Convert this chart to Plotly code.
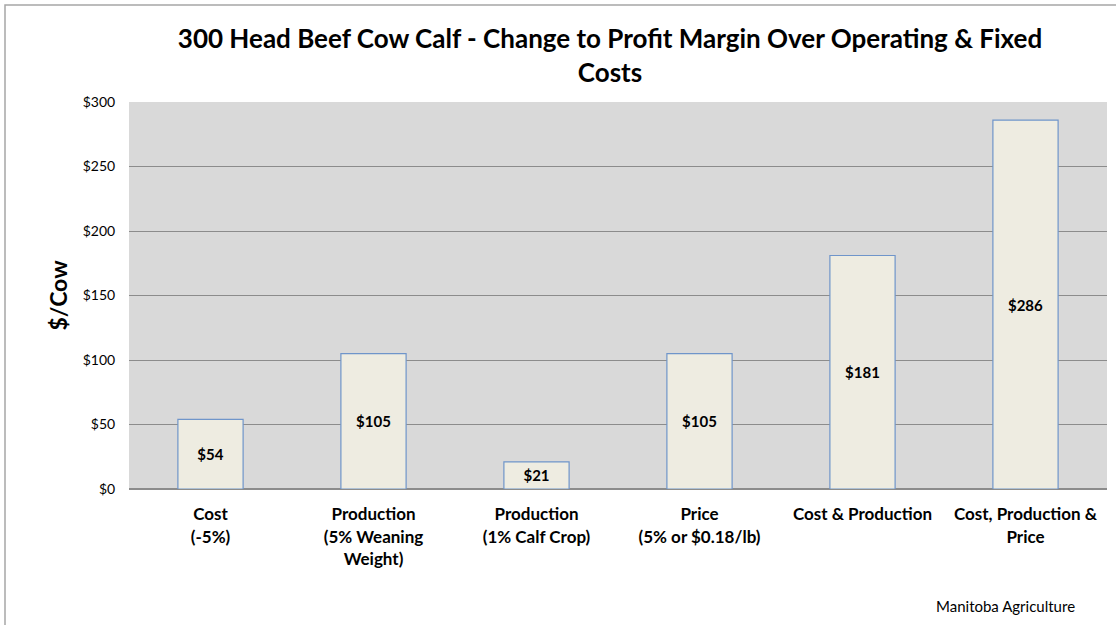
import plotly.graph_objects as go

categories = ["Cost<br>(-5%)", "Production<br>(5% Weaning<br>Weight)", "Production<br>(1% Calf Crop)",
              "Price<br>(5% or $0.18/lb)", "Cost & Production", "Cost, Production &<br>Price"]
values = [54, 105, 21, 105, 181, 286]
value_labels = ["$54", "$105", "$21", "$105", "$181", "$286"]
y_ticks = [0, 50, 100, 150, 200, 250, 300]
y_tick_labels = ["$0", "$50", "$100", "$150", "$200", "$250", "$300"]

FONT = "Lato, Open Sans, sans-serif"

W, H = 1116, 625
L, R, T, B = 129, 1107, 102, 489
PW, PH = R - L, B - T

def px(x):
    return (x - L) / PW

def py(y):
    return (B - y) / PH

fig = go.Figure(go.Bar(
    x=categories, y=values, text=value_labels,
    textposition="inside", insidetextanchor="middle",
    textfont=dict(family=FONT, size=15, color="black", weight="bold"),
    marker=dict(color="#EEECE1", line=dict(color="#6F95CA", width=1.2)),
    width=0.4, cliponaxis=False,
))

fig.update_layout(
    width=W, height=H,
    margin=dict(l=L, r=W - R, t=T, b=H - B),
    paper_bgcolor="white", plot_bgcolor="#D9D9D9",
    font=dict(family=FONT, color="black"),
    showlegend=False,
    title=dict(text="<b>300 Head Beef Cow Calf - Change to Profit Margin Over Operating & Fixed<br>Costs</b>",
               x=610 / W, xanchor="center", y=1 - 48 / H, yanchor="top",
               font=dict(family=FONT, size=26, color="black")),
    xaxis=dict(showgrid=False, showline=False, ticks="outside", ticklen=10, tickcolor="rgba(0,0,0,0)",
               tickfont=dict(family=FONT, size=17, color="black", weight="bold")),
    yaxis=dict(range=[0, 300], tickvals=y_ticks, ticktext=y_tick_labels,
               showgrid=True, gridcolor="#8C8C8C", gridwidth=1.3,
               zeroline=True, zerolinecolor="#8C8C8C", zerolinewidth=1.5,
               tickfont=dict(family=FONT, size=14, color="black"),
               ticks="outside", ticklen=10, tickcolor="rgba(0,0,0,0)",
               title=dict(text="<b>$/Cow</b>", font=dict(family=FONT, size=23, color="black"), standoff=8)),
    shapes=[dict(type="rect", xref="paper", yref="paper",
                 x0=px(5), x1=px(1130),
                 y0=py(650), y1=py(5),
                 line=dict(color="#A6A6A6", width=1.5), fillcolor="rgba(0,0,0,0)", layer="below")],
    annotations=[dict(text="Manitoba Agriculture", xref="paper", yref="paper",
                      x=px(1077), xanchor="right", y=py(606), yanchor="middle",
                      showarrow=False, font=dict(family=FONT, size=15, color="black"))],
)

fig.write_html("out.html", config={"displayModeBar": False},
               post_script="document.body.style.margin='0px';document.body.style.overflow='hidden';")
